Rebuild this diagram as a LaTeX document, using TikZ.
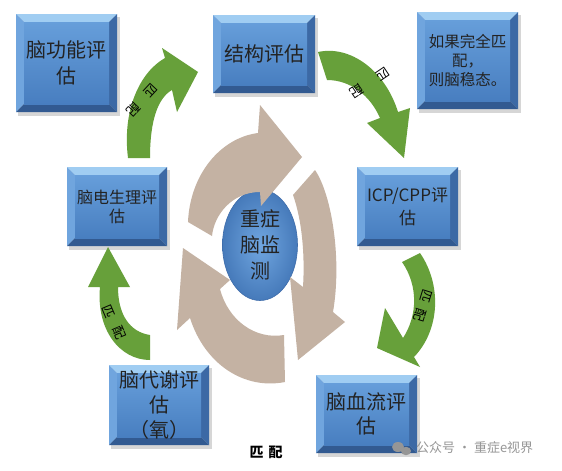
\documentclass[tikz,border=0pt]{standalone}
\usepackage{fontspec}
\newfontfamily\cjk{Noto Sans CJK SC}
\usetikzlibrary{shapes.geometric}
\definecolor{boxtop}{RGB}{160,205,242}
\definecolor{boxleft}{RGB}{112,165,222}
\definecolor{boxright}{RGB}{60,105,165}
\definecolor{boxbot}{RGB}{50,90,145}
\definecolor{facetop}{RGB}{102,158,218}
\definecolor{facebot}{RGB}{72,126,192}
\definecolor{arrowgreen}{RGB}{103,160,58}
\definecolor{ringtan}{RGB}{196,178,163}
\definecolor{txt}{RGB}{35,35,35}
\definecolor{wm}{RGB}{150,150,150}
\tikzset{
  boxtext/.style={text=txt, align=center, inner sep=0pt},
  greenarrow/.style={fill=arrowgreen},
  tanarrow/.style={fill=ringtan},
  arrowlabel/.style={text=black, font=\cjk\fontsize{13}{13}\selectfont, inner sep=0pt},
  shadowfill/.style={fill=black, opacity=0.16},
}
% name, x1, y1, x2, y2, font size, baselineskip, text
\newcommand{\bevbox}[8]{%
  \fill[shadowfill] (#2+2,#3+3) rectangle (#4+3,#5+4);
  \fill[boxtop] (#2,#3) -- (#4,#3) -- (#4-8,#3+8) -- (#2+8,#3+8) -- cycle;
  \fill[boxleft] (#2,#3) -- (#2+8,#3+8) -- (#2+8,#5-8) -- (#2,#5) -- cycle;
  \fill[boxright] (#4,#3) -- (#4,#5) -- (#4-8,#5-8) -- (#4-8,#3+8) -- cycle;
  \fill[boxbot] (#2,#5) -- (#4,#5) -- (#4-8,#5-8) -- (#2+8,#5-8) -- cycle;
  \shade[top color=facetop, bottom color=facebot] (#2+8,#3+8) rectangle (#4-8,#5-8);
  \node[boxtext, font=\cjk\fontsize{#6}{#7}\selectfont] (#1) at ({(#2+#4)/2},{(#3+#5)/2}) {#8};
}
\begin{document}
\begin{tikzpicture}[x=1pt,y=-1pt]
\fill[white] (0,0) rectangle (562,471);
\path[use as bounding box] (0,0) rectangle (562,471);

% boxes
\bevbox{func}{16}{14}{117}{112}{20}{26}{脑功能评\\估}
\bevbox{struct}{213}{15}{315}{93}{20}{26}{结构评估}
\bevbox{note}{417}{12}{518}{109}{15.5}{19}{如果完全匹\\配，\\则脑稳态。}
\bevbox{icp}{357}{167}{458}{246}{17}{23}{ICP/CPP评\\估}
\bevbox{eeg}{67}{167}{167}{246}{16}{19}{脑电生理评\\估}
\bevbox{meta}{109}{365}{209}{445}{20}{25}{脑代谢评\\估\\（氧）}
\bevbox{flow}{316}{375}{417}{453}{20}{24}{脑血流评\\估}

% centre ellipse
\node[ellipse, minimum width=75pt, minimum height=111pt, inner sep=0pt,
      inner color={rgb,255:red,112;green,166;blue,224},
      outer color={rgb,255:red,70;green,122;blue,186},
      draw={rgb,255:red,62;green,108;blue,170}, line width=0.6pt,
      text=txt, align=center, font=\cjk\fontsize{20}{26}\selectfont] (center) at (260,245) {重症\\脑监\\测};

% tan circular arrows
\fill[tanarrow] (188,222) .. controls (190,175) and (220,138) .. (258,133)
  -- (260,105) -- (302,157) -- (261,206) -- (260,192)
  .. controls (232,192) and (214,215) .. (212,236) -- cycle;
\fill[tanarrow] (315,170) .. controls (332,195) and (342,260) .. (333,312)
  -- (345,322) -- (298,360) -- (290,277) -- (303,287)
  .. controls (305,255) and (302,220) .. (293,195) -- cycle;
\fill[tanarrow] (284,335) .. controls (255,340) and (228,320) .. (220,289)
  -- (230,280) -- (183,248) -- (177,330) -- (190,318)
  .. controls (205,365) and (245,390) .. (285,382) -- cycle;

% green arrows
\fill[greenarrow] (128,158) .. controls (122,110) and (140,72) .. (165,58)
  -- (162,48) -- (198,72) -- (177,112) -- (172,90)
  .. controls (158,98) and (150,120) .. (150,158) -- cycle;
\fill[greenarrow] (318,52) .. controls (350,45) and (385,70) .. (398,112)
  -- (410,108) -- (404,158) -- (367,123) -- (380,118)
  .. controls (370,95) and (350,80) .. (327,80) -- cycle;
\fill[greenarrow] (402,262) -- (420,253) .. controls (442,285) and (440,330) .. (414,357)
  -- (420,367) -- (377,348) -- (385,308) -- (403,338)
  .. controls (418,315) and (418,285) .. (402,262) -- cycle;
\fill[greenarrow] (150,335) .. controls (130,332) and (118,315) .. (118,287)
  -- (130,287) -- (108,247) -- (88,287) -- (100,287)
  .. controls (96,330) and (120,360) .. (150,360) -- cycle;

% arrow labels (one character each, spaced as in the picture)
\node[arrowlabel, rotate=227] (lab1a) at (151,91) {匹};
\node[arrowlabel, rotate=227] (lab1b) at (134,109) {配};
\node[arrowlabel, rotate=214] (lab2a) at (383,74) {匹};
\node[arrowlabel, rotate=214] (lab2b) at (357,91) {配};
\node[arrowlabel, rotate=253] (lab3a) at (426,296) {匹};
\node[arrowlabel, rotate=253] (lab3b) at (420,315) {配};
\node[arrowlabel, rotate=-67] (lab4a) at (109,312) {匹};
\node[arrowlabel, rotate=-67] (lab4b) at (119,333) {配};

% bottom label
\node[text=black, inner sep=0pt, font=\cjk\bfseries\fontsize{14}{14}\selectfont] (match) at (266,452) {匹\hspace{5pt}配};

% watermark
\fill[wm] (398,447) ellipse [x radius=6, y radius=5];
\fill[wm] (406,451) ellipse [x radius=5, y radius=4.2];
\node[text=wm, inner sep=0pt, anchor=west, font=\cjk\fontsize{13}{13}\selectfont] (wmark) at (416,448) {公众号 · 重症e视界};
\end{tikzpicture}
\end{document}
